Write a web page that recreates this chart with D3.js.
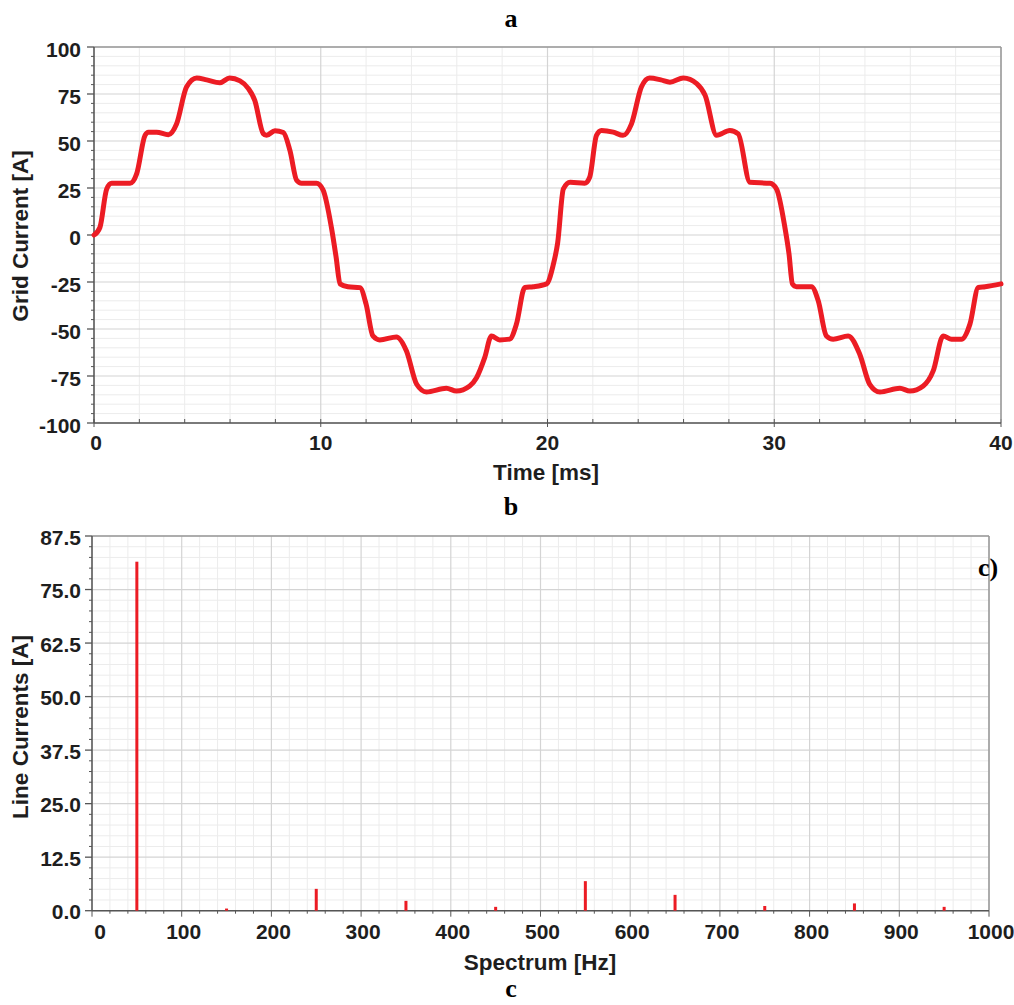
<!DOCTYPE html>
<html>
<head>
<meta charset="utf-8">
<script src="https://cdn.jsdelivr.net/npm/d3@7"></script>
<style>
  html, body { margin: 0; padding: 0; background: #fff; }
  svg { display: block; }
  .tick-label { font-family: "Liberation Sans", Arial, sans-serif; font-weight: bold; font-size: 21px; fill: #1e1e1e; }
  .axis-title { font-family: "Liberation Sans", Arial, sans-serif; font-weight: bold; font-size: 22.5px; fill: #1e1e1e; }
  .panel-title { font-family: "Liberation Serif", "Times New Roman", serif; font-weight: bold; font-size: 26px; fill: #000; }
</style>
</head>
<body>
<svg id="chart" width="1014" height="1005"></svg>
<script>
// ---------- Data: panel (a) grid current waveform ----------
const timeMs = [
  0, 0.26, 0.56, 0.78, 1.59, 1.88, 2.25, 2.4, 2.76, 3.28, 3.64, 4.08, 4.53, 4.97, 5.55, 5.98, 6.44, 6.8, 7.09, 7.46,
  7.61, 7.98, 8.35, 8.64, 8.94, 9.15, 9.81, 10.1, 10.47, 10.68, 10.85, 11.2, 11.73, 12.0, 12.3, 12.6, 13.34, 13.78, 14.23, 14.66,
  15.54, 15.98, 16.57, 16.87, 17.23, 17.53, 17.89, 18.33, 18.63, 19.0, 19.37, 19.96, 20.25, 20.45, 20.7, 21.0, 21.64, 21.86, 22.16, 22.38,
  22.9, 23.33, 23.7, 24.14, 24.5, 25.0, 25.4, 25.99, 26.58, 26.95, 27.46, 28.04, 28.41, 28.93, 29.81, 30.1, 30.47, 30.65, 30.8, 30.98,
  31.64, 31.94, 32.3, 32.6, 33.26, 33.77, 34.21, 34.66, 35.54, 35.98, 36.57, 37.01, 37.45, 37.82, 38.26, 38.63, 39.0, 39.3, 40.0
];
const gridCurrent = [
  0, 4, 24.5, 27.5, 27.5, 32.5, 53, 54.7, 54.7, 53.3, 59, 78.7, 83.5, 82.5, 81, 83.5, 82, 78, 71.6, 54,
  53, 55.5, 54.5, 45, 29, 27.5, 27.5, 24, 4, -12, -26, -27.5, -28, -36.8, -53.7, -55.8, -54.2, -61.7, -79.4, -83.5,
  -81.5, -83, -80.3, -75.9, -65.2, -53.7, -55.8, -55.4, -47.4, -27.9, -27.5, -26, -16, -4, 24.5, 28, 27.5, 30.7, 53, 55.6,
  54.7, 53, 59, 78.7, 83.5, 82.5, 81.3, 83.5, 80.5, 74.3, 53, 55.6, 53.8, 28, 27.5, 24.5, 4, -10, -26, -27.5,
  -27.5, -35, -53.7, -55.4, -53.7, -63.4, -79.4, -83.5, -81.5, -83, -80.3, -72.3, -53.7, -55.4, -55.4, -47.4, -27.9, -27.5, -26
];
const timeTicks = [0, 10, 20, 30, 40];
const currentTicks = [-100, -75, -50, -25, 0, 25, 50, 75, 100];

// ---------- Data: panel (b) spectrum ----------
const freqHz = [50, 150, 250, 350, 450, 550, 650, 750, 850, 950];
const lineCurrent = [81.5, 0.5, 5.1, 2.3, 0.9, 6.9, 3.7, 1.1, 1.7, 0.9];
const freqTicks = [0, 100, 200, 300, 400, 500, 600, 700, 800, 900, 1000];
const ampTicks = [0, 12.5, 25, 37.5, 50, 62.5, 75, 87.5];

const svg = d3.select("#chart");
svg.append("rect").attr("width", 1014).attr("height", 1005).attr("fill", "#fff");

const RED = "#ec1c24";

function drawGrid(g, x, y, xMinor, xMajor, yMinor, yMajor, w, h) {
  const gg = g.append("g");
  gg.selectAll(".vminor").data(xMinor).join("line")
    .attr("x1", d => x(d)).attr("x2", d => x(d)).attr("y1", 0).attr("y2", h)
    .attr("stroke", "#ececec").attr("stroke-width", 1);
  gg.selectAll(".hminor").data(yMinor).join("line")
    .attr("y1", d => y(d)).attr("y2", d => y(d)).attr("x1", 0).attr("x2", w)
    .attr("stroke", "#ececec").attr("stroke-width", 1);
  gg.selectAll(".vmajor").data(xMajor).join("line")
    .attr("x1", d => x(d)).attr("x2", d => x(d)).attr("y1", 0).attr("y2", h)
    .attr("stroke", "#d4d4d4").attr("stroke-width", 1.2);
  gg.selectAll(".hmajor").data(yMajor).join("line")
    .attr("y1", d => y(d)).attr("y2", d => y(d)).attr("x1", 0).attr("x2", w)
    .attr("stroke", "#d4d4d4").attr("stroke-width", 1.2);
}

function frame(g, w, h) {
  g.append("line").attr("x1", 0).attr("x2", w).attr("y1", 0).attr("y2", 0).attr("stroke", "#999").attr("stroke-width", 1.5);
  g.append("line").attr("x1", w).attr("x2", w).attr("y1", 0).attr("y2", h).attr("stroke", "#999").attr("stroke-width", 1.5);
  g.append("line").attr("x1", 0).attr("x2", 0).attr("y1", 0).attr("y2", h).attr("stroke", "#555").attr("stroke-width", 1.5);
  g.append("line").attr("x1", 0).attr("x2", w).attr("y1", h).attr("y2", h).attr("stroke", "#555").attr("stroke-width", 1.5);
}

// ================= Panel (a) =================
{
  const L = 94, T = 47, W = 907, H = 376;
  const g = svg.append("g").attr("transform", `translate(${L},${T})`);
  const x = d3.scaleLinear().domain([0, 40]).range([0, W]);
  const y = d3.scaleLinear().domain([-100, 100]).range([H, 0]);

  const xMinor = d3.range(0, 40.01, 2).filter(d => d % 10 !== 0);
  const yMinor = d3.range(-100, 100.01, 5).filter(d => d % 25 !== 0);
  drawGrid(g, x, y, xMinor, timeTicks, yMinor, currentTicks, W, H);

  g.selectAll(".ytm").data(yMinor).join("line")
    .attr("x1", -3).attr("x2", 0).attr("y1", d => y(d)).attr("y2", d => y(d)).attr("stroke", "#555");
  g.selectAll(".ytM").data(currentTicks).join("line")
    .attr("x1", -7).attr("x2", 0).attr("y1", d => y(d)).attr("y2", d => y(d)).attr("stroke", "#555").attr("stroke-width", 1.3);
  g.selectAll(".xtm").data(d3.range(0, 40.01, 2)).join("line")
    .attr("x1", d => x(d)).attr("x2", d => x(d)).attr("y1", H - 4).attr("y2", H).attr("stroke", "#555");
  g.selectAll(".xtM").data(timeTicks).join("line")
    .attr("x1", d => x(d)).attr("x2", d => x(d)).attr("y1", H).attr("y2", H + 4).attr("stroke", "#555");

  frame(g, W, H);

  const pts = timeMs.map((t, i) => [t, gridCurrent[i]]);
  const line = d3.line().x(d => x(d[0])).y(d => y(d[1])).curve(d3.curveMonotoneX);
  g.append("path").attr("d", line(pts)).attr("fill", "none").attr("stroke", RED)
    .attr("stroke-width", 5).attr("stroke-linejoin", "round").attr("stroke-linecap", "round");

  g.selectAll(".yl").data(currentTicks).join("text").attr("class", "tick-label")
    .attr("x", -13).attr("y", d => y(d) + 4).attr("text-anchor", "end").attr("dominant-baseline", "middle")
    .text(d => d);
  g.selectAll(".xl").data(timeTicks).join("text").attr("class", "tick-label")
    .attr("x", d => x(d) + (d === 0 ? 2 : 0)).attr("y", H + 21).attr("text-anchor", "middle").attr("dominant-baseline", "middle")
    .text(d => d);

  svg.append("text").attr("class", "axis-title").attr("x", 546).attr("y", 474)
    .attr("text-anchor", "middle").attr("dominant-baseline", "middle").text("Time [ms]");
  svg.append("text").attr("class", "axis-title")
    .attr("transform", "translate(22,236) rotate(-90)")
    .attr("text-anchor", "middle").attr("dominant-baseline", "middle").text("Grid Current [A]");
}

// ================= Panel (b) =================
{
  const L = 92, T = 536, W = 897, H = 374.7;
  const g = svg.append("g").attr("transform", `translate(${L},${T})`);
  const x = d3.scaleLinear().domain([0, 1000]).range([0, W]);
  const y = d3.scaleLinear().domain([0, 87.5]).range([H, 0]);

  const xMinor = d3.range(0, 1000.01, 20).filter(d => d % 100 !== 0);
  const yMinor = d3.range(0, 87.51, 2.5).filter(d => Math.abs((d / 12.5) - Math.round(d / 12.5)) > 1e-6);
  drawGrid(g, x, y, xMinor, freqTicks, yMinor, ampTicks, W, H);

  g.selectAll(".ytm").data(yMinor).join("line")
    .attr("x1", -3).attr("x2", 0).attr("y1", d => y(d)).attr("y2", d => y(d)).attr("stroke", "#555");
  g.selectAll(".ytM").data(ampTicks).join("line")
    .attr("x1", -7).attr("x2", 0).attr("y1", d => y(d)).attr("y2", d => y(d)).attr("stroke", "#555").attr("stroke-width", 1.3);
  g.selectAll(".xtm").data(xMinor).join("line")
    .attr("x1", d => x(d)).attr("x2", d => x(d)).attr("y1", H).attr("y2", H + 3).attr("stroke", "#555");
  g.selectAll(".xtM").data(freqTicks).join("line")
    .attr("x1", d => x(d)).attr("x2", d => x(d)).attr("y1", H).attr("y2", H + 6).attr("stroke", "#555");

  frame(g, W, H);

  g.selectAll(".bar").data(freqHz).join("rect")
    .attr("x", d => x(d) - 1.5).attr("width", 3)
    .attr("y", (d, i) => y(lineCurrent[i]))
    .attr("height", (d, i) => H - y(lineCurrent[i]))
    .attr("fill", RED);

  g.selectAll(".yl").data(ampTicks).join("text").attr("class", "tick-label")
    .attr("x", -11).attr("y", d => y(d) + 3).attr("text-anchor", "end").attr("dominant-baseline", "middle")
    .text(d => d.toFixed(1));
  g.selectAll(".xl").data(freqTicks).join("text").attr("class", "tick-label")
    .attr("x", d => x(d) + (d === 0 ? 8 : 2)).attr("y", H + 23).attr("text-anchor", "middle").attr("dominant-baseline", "middle")
    .text(d => d);

  svg.append("text").attr("class", "axis-title").attr("x", 540).attr("y", 964)
    .attr("text-anchor", "middle").attr("dominant-baseline", "middle").text("Spectrum [Hz]");
  svg.append("text").attr("class", "axis-title")
    .attr("transform", "translate(22,727) rotate(-90)")
    .attr("text-anchor", "middle").attr("dominant-baseline", "middle").text("Line Currents [A]");
}

// panel letters
svg.append("text").attr("class", "panel-title").attr("x", 511).attr("y", 27).attr("text-anchor", "middle").text("a");
svg.append("text").attr("class", "panel-title").attr("x", 511).attr("y", 515).attr("text-anchor", "middle").text("b");
svg.append("text").attr("class", "panel-title").attr("x", 511).attr("y", 997).attr("font-size", 24).attr("text-anchor", "middle").text("c");
svg.append("text").attr("class", "panel-title").attr("x", 988).attr("y", 576).attr("text-anchor", "middle").text("c)");
</script>
</body>
</html>
